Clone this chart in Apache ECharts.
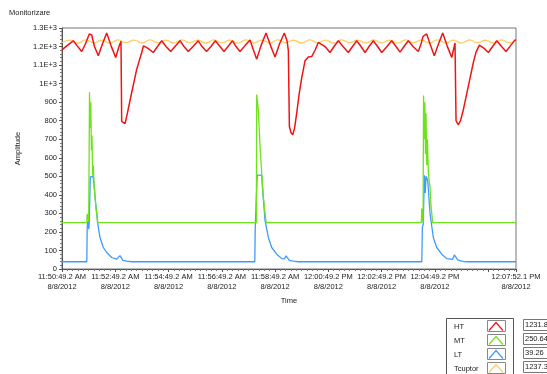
<!DOCTYPE html>
<html>
<head>
<meta charset="utf-8">
<script src="https://cdn.jsdelivr.net/npm/echarts@6/dist/echarts.min.js"></script>
<style>
html, body { margin: 0; padding: 0; background: #fff; }
#main { width: 547px; height: 374px; }
</style>
</head>
<body>
<div id="main"></div>
<script>
// seconds since 11:50:49.2 AM
var htData = [[0,1182],[11.3,1205],[25.5,1231],[33.8,1205],[44.4,1173],[53,1215],[61.5,1268],[66.9,1262],[73.2,1200],[81.8,1150],[91.3,1215],[100.7,1273],[110.4,1205],[121,1141],[128.4,1200],[132.9,1228],[134.5,796],[137.4,786],[142,784],[145.8,823],[157,952],[168.3,1077],[179.6,1168],[183.7,1204],[193.8,1190],[205.7,1168],[215.2,1200],[224.7,1231],[234.4,1200],[244.9,1173],[254.6,1200],[265.9,1231],[274.9,1200],[284.6,1173],[295.2,1200],[307.1,1231],[315.5,1200],[325.6,1173],[335.7,1200],[345.4,1231],[356,1200],[365,1173],[374,1200],[384.2,1231],[392.1,1200],[401.1,1173],[412.4,1205],[423.6,1235],[431.5,1180],[438.7,1132],[448.4,1205],[459.7,1273],[469.8,1205],[480,1144],[490.2,1215],[501,1273],[507.1,1230],[510,1178],[512.3,769],[516.1,735],[519.9,724],[524,760],[528.9,842],[534.1,940],[540.2,1032],[547.5,1123],[555,1144],[562.6,1146],[570.1,1180],[577.5,1222],[581.4,1231],[592.6,1200],[603.9,1168],[612.9,1200],[622.6,1231],[633.2,1200],[645.1,1168],[654.6,1200],[664.1,1231],[673.7,1200],[682.8,1168],[691.8,1200],[701.5,1231],[711,1200],[720.4,1168],[732.3,1200],[742.9,1231],[752.6,1200],[761.6,1170],[770.6,1200],[780.3,1231],[790.9,1200],[802.9,1173],[809,1215],[813.5,1255],[821.8,1268],[830.4,1205],[838.9,1150],[848.4,1215],[857.8,1273],[867.5,1205],[878.1,1141],[885.5,1219],[887.8,800],[893,778],[897.9,800],[904.3,860],[915.5,986],[926.8,1114],[932.9,1170],[940.4,1208],[951,1190],[960.7,1168],[970.2,1200],[979.6,1231],[990.4,1200],[1000.5,1173],[1010.6,1205],[1020.7,1236],[1022.9,1232]];

var mtData = [[0,250],[55.7,250],[56.8,298],[59.3,298],[60.2,255],[62,954],[63.5,760],[64.9,900],[66.2,640],[67.6,720],[69,505],[70.5,560],[72.6,440],[74.4,390],[76.6,330],[78.4,300],[80.2,250],[437.8,250],[438.7,941],[442.3,860],[446.2,660],[450,515],[453.6,388],[457.5,299],[460.2,250],[809.6,250],[810.5,326],[812.8,326],[813.5,250],[814.6,936],[816.2,700],[817.5,900],[818.9,620],[820.2,840],[821.8,560],[823.4,700],[825.4,520],[827.5,470],[829.2,442],[831.5,340],[833.1,299],[835.3,250],[1022.9,250]];

var ltData = [[0,39],[55.9,39],[56.8,230],[58.6,260],[60.4,215],[61.5,260],[63.8,497],[69.9,500],[72.1,462],[74.8,380],[78.2,299],[81.8,225],[85.6,170],[93.1,116],[100.7,89],[112,62],[123.3,53],[127.8,55],[130.7,72],[132.9,66],[136.8,47],[145.8,42],[157.7,39],[434.4,39],[435.3,217],[437.8,225],[439.8,506],[450,506],[452.2,424],[457.5,261],[464.9,170],[472.5,116],[483.8,80],[495,56],[501.4,55],[504.7,71],[508.1,65],[512.2,47],[521.2,42],[531.8,39],[810.7,39],[811.9,225],[813.9,240],[816.4,506],[818.4,410],[820.2,500],[824,479],[829.2,299],[836.6,170],[844.3,116],[855.6,80],[866.9,56],[880,52],[884,76],[887.8,66],[891.6,49],[900.6,43],[910.3,39],[1022.9,39]];

var tcData = [[0,1222],[18,1235],[36,1219],[54,1236],[72,1220],[90,1234],[108,1218],[126,1236],[144,1221],[162,1235],[180,1219],[198,1236],[216,1220],[234,1235],[252,1218],[270,1236],[288,1221],[306,1234],[324,1219],[342,1236],[360,1220],[378,1235],[396,1218],[414,1236],[432,1220],[450,1235],[468,1219],[486,1236],[504,1221],[522,1234],[540,1219],[558,1236],[576,1220],[594,1235],[612,1218],[630,1236],[648,1221],[666,1235],[684,1219],[702,1236],[720,1220],[738,1234],[756,1218],[774,1236],[792,1221],[810,1235],[828,1219],[846,1236],[864,1220],[882,1235],[900,1218],[918,1236],[936,1221],[954,1234],[972,1219],[990,1236],[1008,1220],[1022.9,1233]];

var seriesNames = ['HT', 'MT', 'LT', 'Tcuptor'];
var seriesColors = ['#ee1515', '#6ee21c', '#3d9bff', '#ffcc66'];
var currentValues = ['1231.85', '250.64', '39.26', '1237.36'];

var startSec = 11 * 3600 + 50 * 60 + 49.2;
var dateText = '8/8/2012';
var font = 'Liberation Sans';

function pad(n) { return (parseFloat(n) < 10 ? '0' : '') + n; }

function timeLabel(v) {
    if (Math.abs(v - 960) < 1) return '';
    var s = startSec + v;
    var h = Math.floor(s / 3600);
    var m = Math.floor((s - h * 3600) / 60);
    var sec = s - h * 3600 - m * 60;
    var ap = h >= 12 ? 'PM' : 'AM';
    var hh = h > 12 ? h - 12 : h;
    return hh + ':' + pad(m) + ':' + pad(sec.toFixed(1)) + ' ' + ap + '\n' + dateText;
}

function ampLabel(v) {
    if (v >= 1000) return (v / 1000) + 'E+3';
    return v;
}

// boxes of the legend panel and of the value readouts
var graphics = [{
    type: 'rect', shape: { x: 446.5, y: 318.5, width: 67, height: 60 },
    style: { fill: '#fff', stroke: '#555', lineWidth: 1 }, z: -1
}];
seriesNames.forEach(function (n, i) {
    var y = 320.5 + i * 14;
    graphics.push({
        type: 'rect', shape: { x: 487.5, y: y, width: 18, height: 11 },
        style: { fill: '#fff', stroke: '#888', lineWidth: 1 }, z: -1
    });
    graphics.push({
        type: 'rect', shape: { x: 523.5, y: y - 1, width: 40, height: 11 },
        style: { fill: '#fff', stroke: '#777', lineWidth: 1 }
    });
    graphics.push({
        type: 'text', x: 525, y: y + 4.5,
        style: { text: currentValues[i], fontFamily: font, fontSize: 7.5, fill: '#222', verticalAlign: 'middle' }
    });
});

var chart = echarts.init(document.getElementById('main'));
chart.setOption({
    animation: false,
    backgroundColor: '#fff',
    title: {
        text: 'Monitorizare', left: 9, top: 9, padding: 0,
        textStyle: { fontFamily: font, fontSize: 7.5, fontWeight: 'normal', color: '#222' }
    },
    grid: { left: 62, right: 31, top: 28, bottom: 105, show: true, borderColor: '#777', borderWidth: 1 },
    legend: {
        orient: 'vertical', left: 454, top: 320, height: 80, width: 60, padding: 0, align: 'right',
        itemWidth: 14, itemHeight: 8, itemGap: 1,
        icon: 'path://M0,9L7,1L14,9',
        selectedMode: false,
        formatter: function (n) { return '{a|' + n + '}'; },
        textStyle: {
            fontFamily: font, fontSize: 7.5, color: '#222',
            rich: { a: { width: 30, align: 'left', fontFamily: font, fontSize: 7.5, lineHeight: 10, color: '#222' } }
        },
        data: seriesNames.map(function (n, i) {
            return { name: n, itemStyle: { color: 'none', borderColor: seriesColors[i], borderWidth: 1.2 } };
        })
    },
    graphic: graphics,
    xAxis: {
        type: 'value', min: 0, max: 1022.9, interval: 120,
        name: 'Time', nameLocation: 'middle', nameGap: 22,
        nameTextStyle: { fontFamily: font, fontSize: 7.5, color: '#222' },
        axisLine: { lineStyle: { color: '#555' } },
        axisTick: { length: 3, lineStyle: { color: '#555' } },
        minorTick: { show: true, splitNumber: 10, length: 2, lineStyle: { color: '#777' } },
        splitLine: { show: false },
        axisLabel: {
            formatter: timeLabel, showMaxLabel: true, showMinLabel: true, margin: 3,
            fontFamily: font, fontSize: 7.5, lineHeight: 10, color: '#222'
        }
    },
    yAxis: {
        type: 'value', min: 0, max: 1300, interval: 100,
        name: 'Amplitude', nameLocation: 'middle', nameGap: 28,
        nameTextStyle: { fontFamily: font, fontSize: 7.5, color: '#222' },
        axisLine: { show: true, lineStyle: { color: '#555' } },
        axisTick: { show: true, length: 3, lineStyle: { color: '#555' } },
        minorTick: { show: true, splitNumber: 5, length: 2, lineStyle: { color: '#777' } },
        splitLine: { show: false },
        axisLabel: { formatter: ampLabel, margin: 5, fontFamily: font, fontSize: 7.5, color: '#222' }
    },
    series: [
        { name: 'Tcuptor', type: 'line', data: tcData, showSymbol: false, smooth: true, z: 1,
          lineStyle: { color: seriesColors[3], width: 1.3 }, itemStyle: { color: seriesColors[3] } },
        { name: 'LT', type: 'line', data: ltData, showSymbol: false, z: 2,
          lineStyle: { color: seriesColors[2], width: 1.3 }, itemStyle: { color: seriesColors[2] } },
        { name: 'MT', type: 'line', data: mtData, showSymbol: false, z: 3,
          lineStyle: { color: seriesColors[1], width: 1.3 }, itemStyle: { color: seriesColors[1] } },
        { name: 'HT', type: 'line', data: htData, showSymbol: false, z: 4,
          lineStyle: { color: seriesColors[0], width: 1.5 }, itemStyle: { color: seriesColors[0] } }
    ]
});
</script>
</body>
</html>
